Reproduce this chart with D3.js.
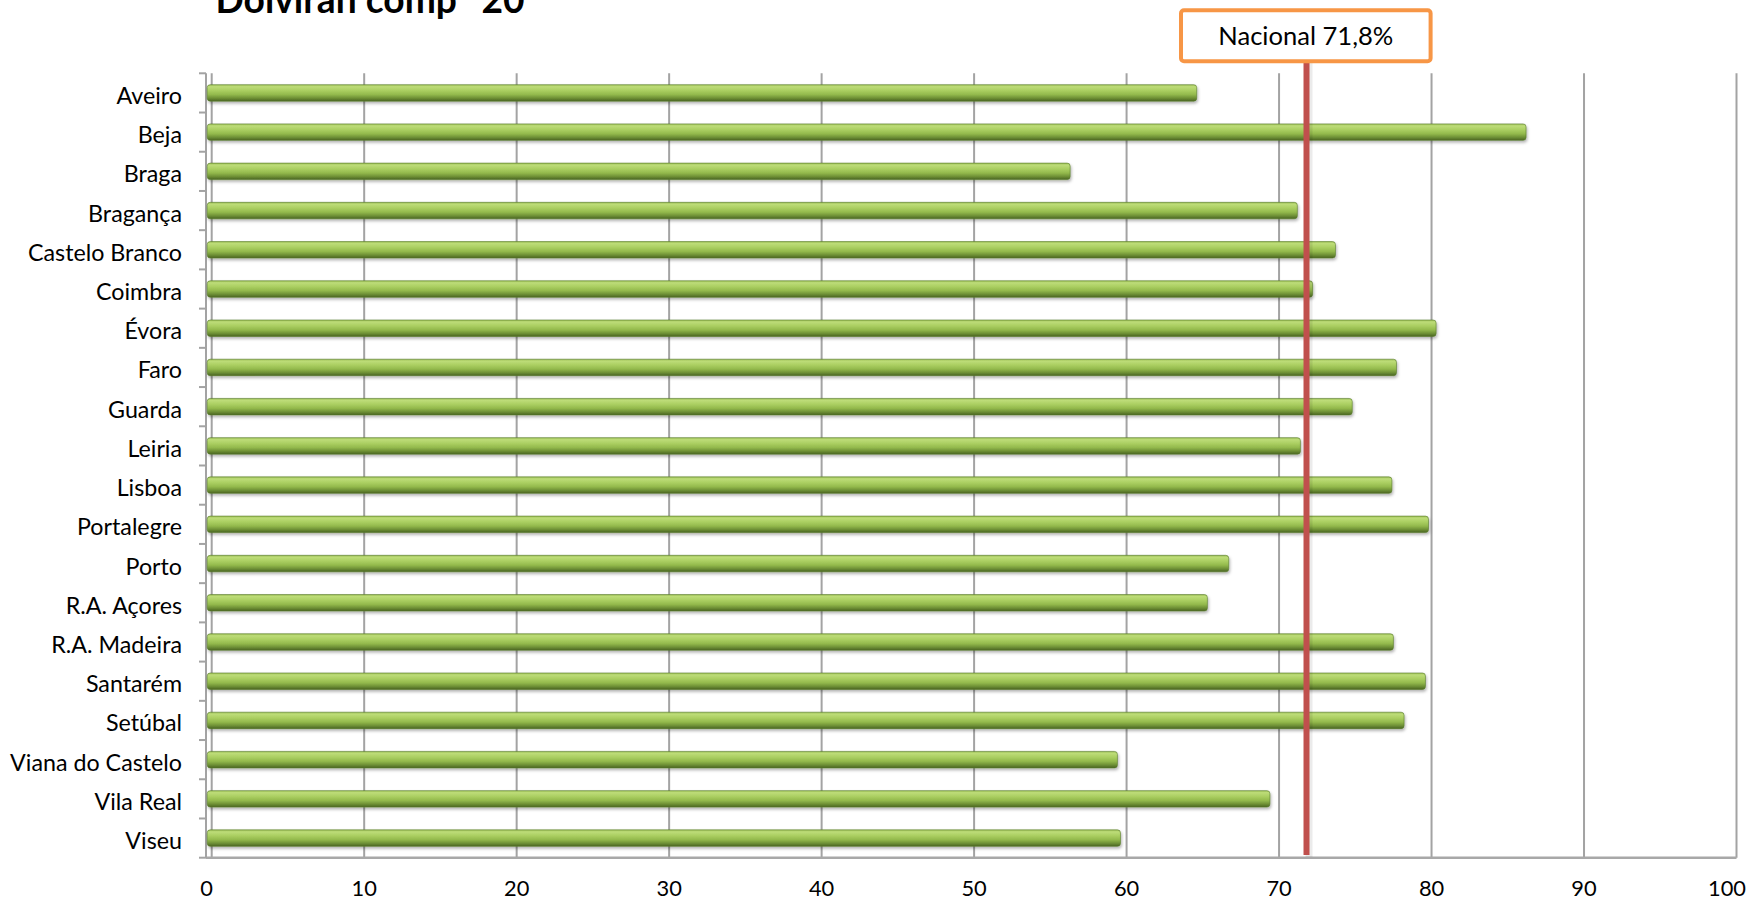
<!DOCTYPE html>
<html>
<head>
<meta charset="utf-8">
<script src="https://cdn.jsdelivr.net/npm/d3@7"></script>
<style>
  html, body { margin: 0; padding: 0; background: #ffffff; }
  svg { display: block; }
</style>
</head>
<body>
<svg id="chart" width="1752" height="903"></svg>
<script>
// ---------- DATA ----------
const categories = [
  "Aveiro", "Beja", "Braga", "Bragança", "Castelo Branco", "Coimbra", "Évora",
  "Faro", "Guarda", "Leiria", "Lisboa", "Portalegre", "Porto", "R.A. Açores",
  "R.A. Madeira", "Santarém", "Setúbal", "Viana do Castelo", "Vila Real", "Viseu"
];
const values = [
  64.6, 86.2, 56.3, 71.2, 73.7, 72.2, 80.3,
  77.7, 74.8, 71.4, 77.4, 79.8, 66.7, 65.3,
  77.5, 79.6, 78.2, 59.4, 69.4, 59.6
];
const xTicks = [0, 10, 20, 30, 40, 50, 60, 70, 80, 90, 100];
const nationalValue = 71.8;
const nationalLabel = "Nacional 71,8%";
const titleMain = "Dolviran comp";
const titleTail = "20";

// ---------- LAYOUT ----------
const W = 1752;
const svg = d3.select("#chart");
const FONT = "Lato, 'Open Sans', 'Noto Sans', sans-serif";
const plotTop = 73.3, plotBottom = 857.7;
const x = d3.scaleLinear().domain([0, 100]).range([211.7, 1736.5]);
const y = d3.scaleBand().domain(categories).range([plotTop, plotBottom])
  .paddingInner(0.58).paddingOuter(0.29);
const axisX = 206;

function fitFont(sel, target) {
  const w = sel.node().getComputedTextLength();
  const fs = parseFloat(sel.attr("font-size"));
  const nfs = fs * target / w;
  sel.attr("font-size", nfs);
  return nfs;
}
function measureSize(str, weight, target) {
  const t = svg.append("text").attr("font-family", FONT).attr("font-weight", weight)
    .attr("font-size", 20).text(str);
  const fs = fitFont(t, target);
  t.remove();
  return fs;
}

const defs = svg.append("defs");
const grad = defs.append("linearGradient").attr("id", "barGrad")
  .attr("x1", 0).attr("y1", 0).attr("x2", 0).attr("y2", 1);
[
  [0, "#9cbf55"], [0.12, "#bddc78"], [0.35, "#abcf62"], [0.6, "#93b94c"],
  [0.82, "#6d8f35"], [1, "#4a6422"]
].forEach(([o, c]) => grad.append("stop").attr("offset", o).attr("stop-color", c));

const shadow = defs.append("filter").attr("id", "shadow")
  .attr("x", "-5%").attr("y", "-50%").attr("width", "110%").attr("height", "220%");
shadow.append("feDropShadow").attr("dx", 1).attr("dy", 2).attr("stdDeviation", 1.6)
  .attr("flood-color", "#000").attr("flood-opacity", 0.3);

// ---------- GRIDLINES ----------
svg.append("g").selectAll("line").data(xTicks).join("line")
  .attr("x1", d => x(d)).attr("x2", d => x(d))
  .attr("y1", plotTop).attr("y2", plotBottom)
  .attr("stroke", "#a3a3a3").attr("stroke-width", 2);

svg.append("line").attr("x1", axisX).attr("x2", x(100))
  .attr("y1", plotBottom).attr("y2", plotBottom)
  .attr("stroke", "#a8a8a8").attr("stroke-width", 2.5);

const step = y.step();
const boundaries = d3.range(categories.length + 1).map(i => plotTop + i * step);
svg.append("line").attr("x1", axisX).attr("x2", axisX)
  .attr("y1", plotTop).attr("y2", plotBottom)
  .attr("stroke", "#a3a3a3").attr("stroke-width", 2);
svg.append("g").selectAll("line").data(boundaries).join("line")
  .attr("x1", axisX - 7).attr("x2", axisX)
  .attr("y1", d => d).attr("y2", d => d)
  .attr("stroke", "#a3a3a3").attr("stroke-width", 2);

// ---------- BARS ----------
const barStart = x(0) - 4.5;
svg.append("g").selectAll("rect").data(values).join("rect")
  .attr("x", barStart)
  .attr("y", (d, i) => y(categories[i]))
  .attr("width", d => x(d) - barStart)
  .attr("height", y.bandwidth())
  .attr("rx", 3).attr("ry", 3)
  .attr("fill", "url(#barGrad)")
  .attr("stroke", "#587a2b").attr("stroke-width", 0.6)
  .attr("filter", "url(#shadow)");

// ---------- NATIONAL LINE ----------
const nx = x(nationalValue);
// soft shadow beside the line
svg.append("rect")
  .attr("x", nx - 1).attr("y", 62).attr("width", 7).attr("height", 795)
  .attr("fill", "#000").attr("opacity", 0.08);
svg.append("line")
  .attr("x1", nx).attr("x2", nx)
  .attr("y1", 62).attr("y2", 855)
  .attr("stroke", "#c0504d").attr("stroke-width", 6);

const boxLeft = 1179, boxRight = 1432.6, boxTop = 8.3, boxBottom = 63.3, bw = 4;
svg.append("rect")
  .attr("x", boxLeft + bw / 2).attr("y", boxTop + bw / 2)
  .attr("width", boxRight - boxLeft - bw).attr("height", boxBottom - boxTop - bw)
  .attr("rx", 3).attr("fill", "#ffffff")
  .attr("stroke", "#f79646").attr("stroke-width", bw);
const boxText = svg.append("text")
  .attr("x", (boxLeft + boxRight) / 2).attr("y", 45)
  .attr("text-anchor", "middle").attr("font-family", FONT)
  .attr("font-size", 24).attr("fill", "#000").text(nationalLabel);
fitFont(boxText, 175);

// ---------- CATEGORY LABELS ----------
const catSize = measureSize("Castelo Branco", 400, 154);
svg.append("g").selectAll("text").data(categories).join("text")
  .attr("x", 182)
  .attr("y", d => y(d) + y.bandwidth() / 2 + 11)
  .attr("text-anchor", "end")
  .attr("font-family", FONT).attr("font-size", catSize).attr("fill", "#000")
  .text(d => d);

// ---------- X TICK LABELS ----------
const tickSize = measureSize("100", 400, 38);
svg.append("g").selectAll("text").data(xTicks).join("text")
  .attr("x", d => Math.min(x(d) - (d === 0 ? 5 : 0), W - 4 - 19 - 2))
  .attr("y", 896)
  .attr("text-anchor", "middle")
  .attr("font-family", FONT).attr("font-size", tickSize).attr("fill", "#000")
  .text(d => d);

// ---------- TITLE (partially cut off at top) ----------
const t1 = svg.append("text").attr("x", 215.5).attr("y", 13.3)
  .attr("font-family", FONT).attr("font-weight", 700).attr("font-size", 36)
  .attr("fill", "#000").text(titleMain);
const tfs = fitFont(t1, 241.5);
svg.append("text").attr("x", 481.5).attr("y", 13.3)
  .attr("font-family", FONT).attr("font-weight", 700).attr("font-size", tfs)
  .attr("fill", "#000").text(titleTail);
</script>
</body>
</html>
